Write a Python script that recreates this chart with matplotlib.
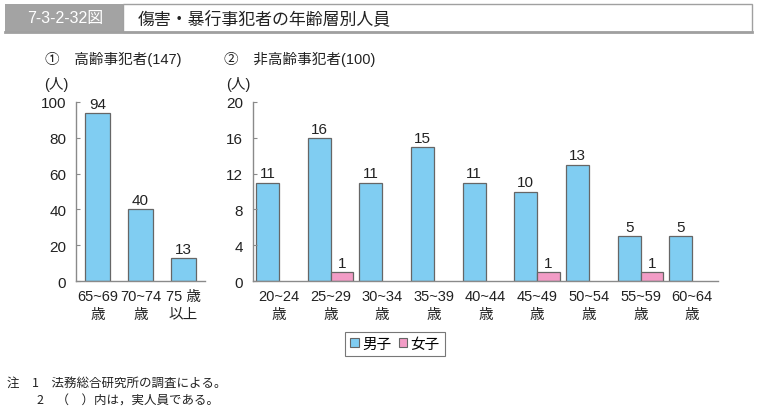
import numpy as np
import matplotlib.pyplot as plt
from matplotlib.patches import Rectangle, Patch

plt.rcParams['font.family'] = ['Liberation Sans', 'Noto Sans CJK JP', 'DejaVu Sans']
CJK = ['Noto Sans CJK JP', 'DejaVu Sans']

# data
old_cats = ['65~69\n歳', '70~74\n歳', '75 歳\n以上']
old_vals = [94, 40, 13]

young_cats = ['20~24\n歳', '25~29\n歳', '30~34\n歳', '35~39\n歳', '40~44\n歳',
              '45~49\n歳', '50~54\n歳', '55~59\n歳', '60~64\n歳']
male = [11, 16, 11, 15, 11, 10, 13, 5, 5]
female = [0, 1, 0, 0, 0, 1, 0, 1, 0]

BLUE = '#80cdf2'
PINK = '#f29cc6'
EDGE = '#666666'
AX = '#8a8a8a'
TXT = '#222222'

fig = plt.figure(figsize=(7.58, 4.14), dpi=100)
W, H = 758, 414

def fx(px):
    return px / W

def fy(py):
    return 1 - py / H

# header
fig.patches.append(Rectangle((fx(5), fy(33)), fx(118), 28 / H, transform=fig.transFigure,
                             facecolor='#a3a3a3', edgecolor='none'))
fig.patches.append(Rectangle((fx(123), fy(33)), fx(629), 28 / H, transform=fig.transFigure,
                             facecolor='white', edgecolor='#a0a0a0', linewidth=1.0))
fig.add_artist(plt.Line2D([fx(5), fx(752)], [fy(33), fy(33)], transform=fig.transFigure,
                          color='#a0a0a0', linewidth=2))
fig.text(fx(65), fy(19), '7-3-2-32図', color='white', fontsize=11.5, ha='center', va='center')
fig.text(fx(138), fy(19), '傷害・暴行事犯者の年齢層別人員', color=TXT, fontsize=12.2,
         ha='left', va='center', family=CJK)

def style(ax, ymax, step):
    for s in ['top', 'right']:
        ax.spines[s].set_visible(False)
    for s in ['left', 'bottom']:
        ax.spines[s].set_color(AX)
        ax.spines[s].set_linewidth(1.0)
    ax.set_ylim(0, ymax)
    ax.set_yticks(np.arange(0, ymax + 1, step))
    ax.tick_params(axis='y', direction='in', length=3, color=AX, labelsize=11,
                   labelcolor=TXT, pad=7)
    ax.tick_params(axis='x', length=0, labelsize=10.5, labelcolor=TXT, pad=6)

# left panel
ax1 = fig.add_axes([fx(76), fy(282), fx(205 - 76), (282 - 103) / H])
x1 = np.arange(len(old_vals))
ax1.bar(x1, old_vals, width=0.6, color=BLUE, edgecolor=EDGE, linewidth=0.9)
for xi, v in zip(x1, old_vals):
    ax1.text(xi, v + 1.2, str(v), ha='center', va='bottom', fontsize=11, color=TXT)
ax1.set_xlim(-0.5, 2.5)
style(ax1, 100, 20)
ax1.set_xticks(x1)
ax1.set_xticklabels(old_cats, linespacing=1.3)

# right panel
ax2 = fig.add_axes([fx(253), fy(282), fx(718 - 253), (282 - 103) / H])
x2 = np.arange(len(male))
w = 0.44
ax2.bar(x2 - w / 2, male, width=w, color=BLUE, edgecolor=EDGE, linewidth=0.9)
fx2 = [x for x, v in zip(x2, female) if v > 0]
fv2 = [v for v in female if v > 0]
ax2.bar(np.array(fx2) + w / 2, fv2, width=w, color=PINK, edgecolor=EDGE, linewidth=0.9)
for xi, v in zip(x2, male):
    ax2.text(xi - w / 2, v + 0.25, str(v), ha='center', va='bottom', fontsize=11, color=TXT)
for xi, v in zip(fx2, fv2):
    ax2.text(xi + w / 2, v + 0.25, str(v), ha='center', va='bottom', fontsize=11, color=TXT)
ax2.set_xlim(-0.5, 8.5)
style(ax2, 20, 4)
ax2.set_xticks(x2)
ax2.set_xticklabels(young_cats, linespacing=1.3)

# panel titles and units
fig.text(fx(45), fy(59), '①　高齢事犯者(147)', fontsize=10.5, color=TXT, va='center')
fig.text(fx(224), fy(59), '②　非高齢事犯者(100)', fontsize=10.5, color=TXT, va='center')
fig.text(fx(44), fy(85), '(人)', fontsize=10.5, color=TXT, va='center')
fig.text(fx(226), fy(85), '(人)', fontsize=10.5, color=TXT, va='center')

# legend
handles = [Patch(facecolor=BLUE, edgecolor=EDGE, linewidth=0.8, label='男子'),
           Patch(facecolor=PINK, edgecolor=EDGE, linewidth=0.8, label='女子')]
leg = fig.legend(handles=handles, loc='center', bbox_to_anchor=(fx(395), fy(345)), ncol=2,
                 frameon=True, fancybox=False, handlelength=0.6,
                 handleheight=0.6, handletextpad=0.2, columnspacing=0.5,
                 borderpad=0.35, edgecolor='#555555',
                 prop={'family': CJK, 'size': 10.5})
leg.get_frame().set_linewidth(0.8)

# notes
fig.text(fx(7), fy(383), '注　1　法務総合研究所の調査による。', fontsize=9, color=TXT,
         va='center', family=CJK)
fig.text(fx(37), fy(401), '2　（　）内は，実人員である。', fontsize=9, color=TXT,
         va='center', family=CJK)

fig.savefig('out.png', dpi=100)
